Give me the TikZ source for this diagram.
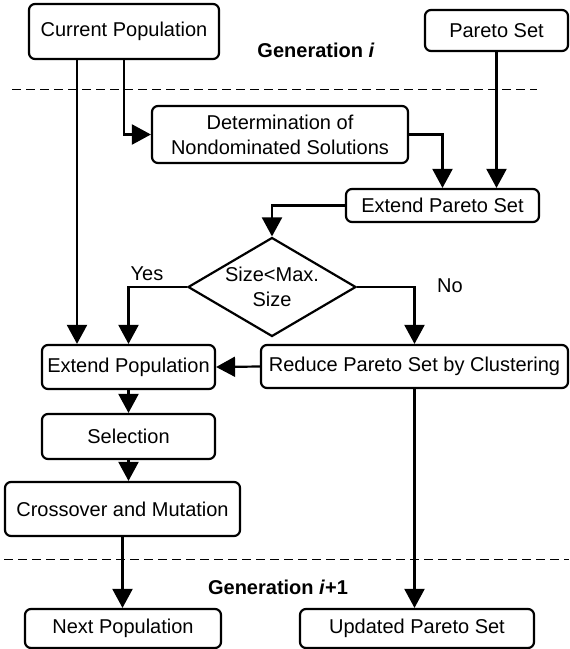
\documentclass[tikz,border=0pt]{standalone}
\usepackage{fontspec}
\setmainfont{Liberation Sans}
\usetikzlibrary{arrows.meta,shapes.geometric}

\tikzset{
	box/.style={draw, line width=1.1pt, rounded corners=3pt, inner sep=0pt, align=center},
	arr/.style={line width=1.1pt, -{Triangle[width=10pt,length=9.5pt]}},
	sep/.style={line width=0.5pt, dash pattern=on 4.5pt off 2.5pt},
}

\begin{document}
\begin{tikzpicture}[x=0.5pt, y=-0.5pt, font=\fontsize{10}{12.5}\selectfont]
		\useasboundingbox (0,0) rectangle (569,649);

		%Generation i
		\node[box, minimum width=95pt, minimum height=27.5pt] (cur) at (124,31.5) {Current Population};
		\node[box, minimum width=71.5pt, minimum height=20.5pt] (par) at (496.5,30.5) {Pareto Set};
		\node[font=\fontsize{10}{12.5}\selectfont\bfseries] (geni) at (316,50) {Generation \textit{i}};
		\draw[sep] (12,89) -- (537,89);

		\node[box, minimum width=128pt, minimum height=28.5pt] (det) at (280,134.5) {Determination of\\Nondominated Solutions};
		\node[box, minimum width=96.5pt, minimum height=16.5pt] (extpar) at (442.5,205.5) {Extend Pareto Set};
		\node[draw, line width=1.1pt, diamond, aspect=1.7, inner sep=0pt, align=center,
			minimum width=84pt, minimum height=49.5pt] (dec) at (272,287) {Size<Max.\\Size};
		\node (yes) at (147,274) {Yes};
		\node (no) at (450,286) {No};

		\node[box, minimum width=86.5pt, minimum height=22pt] (extpop) at (128.5,367) {Extend Population};
		\node[box, minimum width=153.5pt, minimum height=21.5pt] (red) at (414.5,366.5) {Reduce Pareto Set by Clustering};
		\node[box, minimum width=86.5pt, minimum height=22.5pt] (sel) at (128.5,436.5) {Selection};
		\node[box, minimum width=117.5pt, minimum height=27pt] (cross) at (122.5,509) {Crossover and Mutation};

		%Generation i+1
		\draw[sep] (4,559) -- (569,559);
		\node[font=\fontsize{10}{12.5}\selectfont\bfseries] (genii) at (278,587) {Generation \textit{i}+1};
		\node[box, minimum width=98pt, minimum height=19.5pt] (next) at (123,628.5) {Next Population};
		\node[box, minimum width=117pt, minimum height=19.5pt] (upd) at (417,628.5) {Updated Pareto Set};

		%connectors
		\coordinate (left) at (77,0);
		\draw[arr] (cur.south -| left) -- (extpop.north -| left);
		\draw[arr] (cur.south) |- (det.west);
		\draw[arr] (det.east) -| (extpar.north);
		\draw[arr] (par.south) -- (par.south |- extpar.north);
		\draw[arr] (extpar.west) -| (dec.north);
		\draw[arr] (dec.west) -| (extpop.north);
		\draw[arr] (dec.east) -| (red.north);
		\draw[arr] (red.west) -- (extpop.east);
		\draw[arr] (extpop.south) -- (sel.north);
		\draw[arr] (sel.south) -- (sel.south |- cross.north);
		\draw[arr] (cross.south) -- (cross.south |- next.north);
		\draw[arr] (red.south) -- (red.south |- upd.north);

	\end{tikzpicture}
\end{document}
